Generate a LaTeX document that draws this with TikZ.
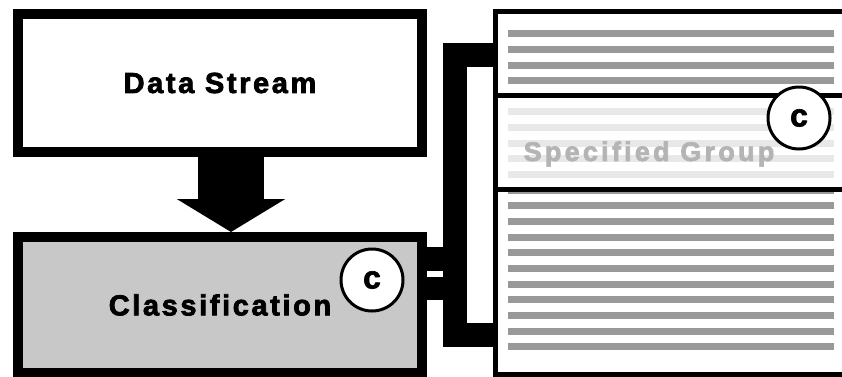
\documentclass[tikz,border=0pt]{standalone}
\usepackage{fontspec}
\setmainfont{Liberation Sans}[FakeBold=2]
\newfontfamily\boxfont{Liberation Sans}[LetterSpace=9, FakeBold=2.5]
\newfontfamily\groupfont{Liberation Sans}[LetterSpace=12, FakeBold=2.5]
\usetikzlibrary{positioning, arrows.meta, calc}

\definecolor{boxgray}{RGB}{200,200,200}
\definecolor{stripedark}{RGB}{153,153,153}
\definecolor{stripelight}{RGB}{232,232,232}
\definecolor{grouptext}{RGB}{180,180,180}

\begin{document}
\begin{tikzpicture}[x=1pt, y=-1pt, node distance={75pt}, line join=miter,
    box/.style = {draw, line width=10pt, minimum width=404pt, minimum height=138pt,
                  font=\boxfont\bfseries\fontsize{29}{31}\selectfont},
    frame/.style = {draw, line width=5pt, fill=white, minimum width=356.5pt, minimum height=363pt},
    divider/.style = {line width=5pt},
    stripe/.style = {line width=7pt},
    badge/.style = {draw, circle, line width=3pt, fill=white, minimum size=62pt, inner sep=0pt,
                    font=\bfseries\fontsize{32}{34}\selectfont},
    bus/.style = {line width=24pt},
    flow/.style = {line width=66pt, -{Triangle[width=107pt, length=33pt]}}]
        \useasboundingbox (0,0) rectangle (842,376);
        \clip (0,0) rectangle (842,376);

        % left column
        \node[box] (stream) at (220,83) {Data Stream};
        \node[box, fill=boxgray, minimum height=136pt] (classify) [below=of stream] {Classification};
        \draw[flow] ([xshift=11pt]stream.south) -- ([xshift=11pt]classify.north);
        \node[badge] (cA) at ($(classify.north east)+(-55,48)$) {c};

        % right column with the stripes
        \node[frame] (groups) at (674,192.5) {};
        \foreach \k in {0,...,3,10,11,...,20}
            \draw[stripe, stripedark] (508,33.7+15.65*\k) -- (834,33.7+15.65*\k);
        \foreach \k in {5,...,9}
            \draw[stripe, stripelight] (508,33.7+15.65*\k) -- (834,33.7+15.65*\k);
        \draw[divider] (groups.west |- 0,95.5) -- (groups.east |- 0,95.5);
        \draw[divider] (groups.west |- 0,189) -- (groups.east |- 0,189);
        \node[text=grouptext, font=\groupfont\bfseries\fontsize{27}{29}\selectfont] (spec) at (649,154) {Specified Group};
        \node[badge] (cB) at (799,118) {c};

        % bracket between the columns
        \coordinate (joint) at (455,195);
        \draw[bus] (groups.west |- 0,55) -| (joint) |- (groups.west |- 0,335);
        \draw[bus] ($(classify.north east)+(0,27)$) -- (joint |- 0,259);
        \draw[line width=23pt] ($(classify.north east)+(0,56.5)$) -- (joint |- 0,288.5);
\end{tikzpicture}
\end{document}
